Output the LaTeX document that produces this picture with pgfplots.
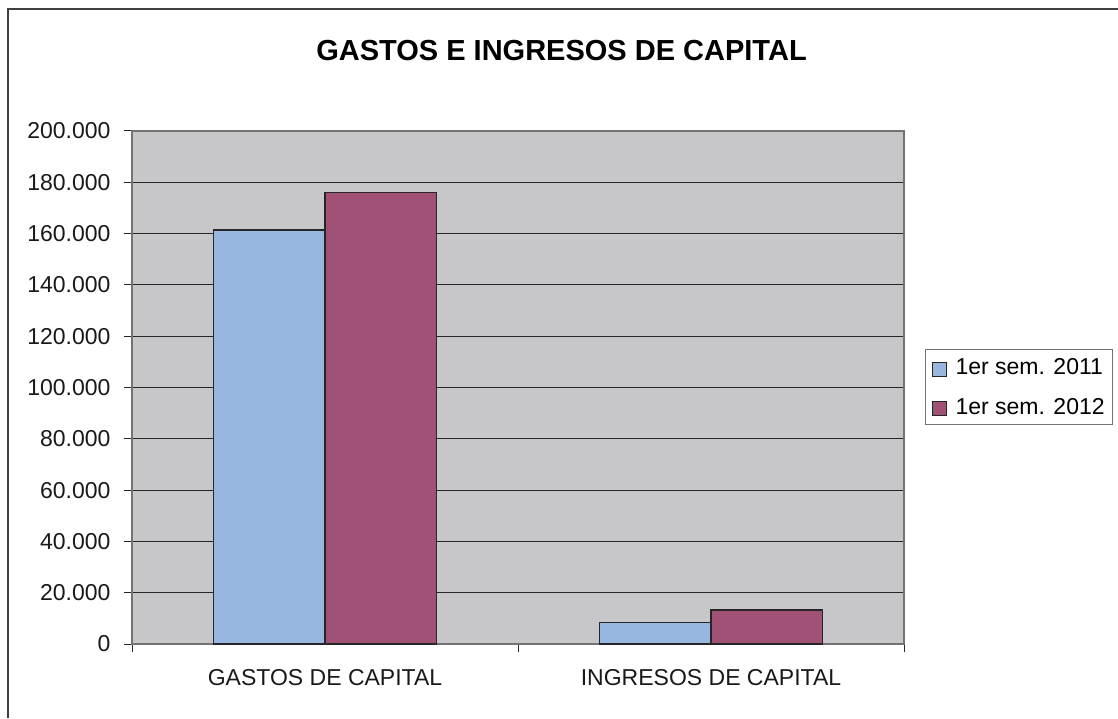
\documentclass[border=0pt]{standalone}
\usepackage{pgfplots}
\pgfplotsset{compat=1.18}
\usepackage{fontspec}
\setmainfont{Liberation Sans}

\definecolor{plotgray}{RGB}{199,199,201}
\definecolor{bar2011}{RGB}{151,183,224}
\definecolor{bar2012}{RGB}{160,81,117}

\begin{document}
\begin{tikzpicture}
\useasboundingbox (0,0) rectangle (1118pt,718pt);
% outer chart frame (only left and top are visible)
\draw[line width=1.5pt, black!75] (8pt,0pt) -- (8pt,709pt) -- (1118pt,709pt);

\node at (561.5pt,667pt) {\bfseries\fontsize{29}{29}\selectfont GASTOS E INGRESOS DE CAPITAL};

\begin{axis}[
    at={(132pt,74pt)}, anchor=south west,
    scale only axis,
    width=772pt, height=513pt,
    xmin=-0.5, xmax=1.5,
    ymin=0, ymax=200000,
    ybar=0pt,
    bar width=111.5pt,
    axis background/.style={fill=plotgray},
    axis line style={black!55, line width=1.2pt},
    ytick={0,20000,...,200000},
    ymajorgrids=true,
    grid style={black!85, line width=1pt},
    tick pos=left,
    tick align=outside,
    major tick length=8pt,
    tick style={black!85, line width=1pt},
    xtick={-0.5,0.5,1.5},
    xticklabels={,,},
    extra x ticks={0,1},
    extra x tick labels={GASTOS DE CAPITAL, INGRESOS DE CAPITAL},
    extra x tick style={major tick length=0pt, xticklabel style={yshift=-22pt}},
    ticklabel style={font=\fontsize{23}{23}\selectfont, text=black!90},
    yticklabel style={xshift=-10pt},
    /pgf/number format/.cd, fixed, 1000 sep={.}, assume math mode=true,
    /pgfplots/.cd,
    scaled y ticks=false,
    legend cell align=left,
    legend style={at={(axis description cs:1.0272,0.4269)}, anchor=south west,
        draw=black!55, line width=1pt, font=\fontsize{23}{23}\selectfont,
        inner xsep=6pt, inner ysep=7pt, row sep=18pt,
        /tikz/every odd column/.append style={column sep=7pt}},
    legend image code/.code={
        \draw[#1, draw=black!85, line width=1pt] (0pt,-9pt) rectangle (14pt,5pt);},
]
\addplot[fill=bar2011, draw=black!85, line width=1.5pt] coordinates {(0,161400) (1,8300)};
\addplot[fill=bar2012, draw=black!85, line width=1.5pt] coordinates {(0,176000) (1,13300)};
\legend{1er sem. 2011, 1er sem. 2012}
\end{axis}
\end{tikzpicture}
\end{document}
